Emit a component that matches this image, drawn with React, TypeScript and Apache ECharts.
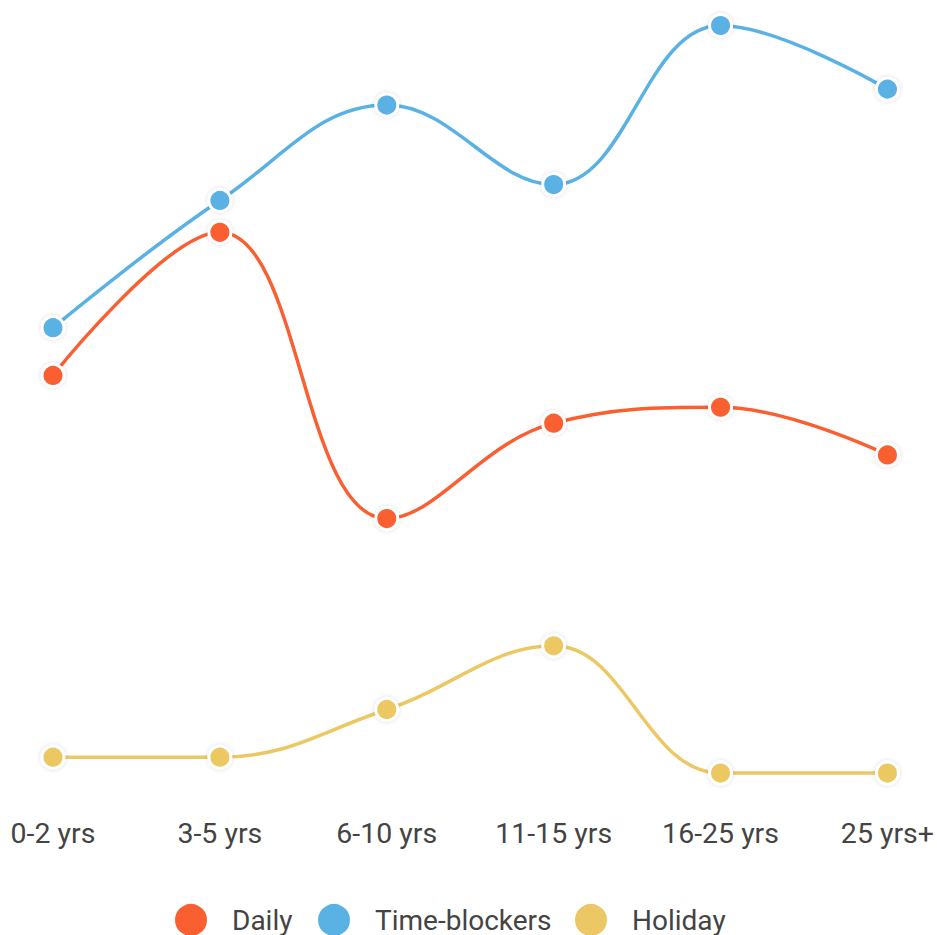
import React, { useEffect, useRef } from "react";
import * as echarts from "echarts";

const categories = ["0-2 yrs", "3-5 yrs", "6-10 yrs", "11-15 yrs", "16-25 yrs", "25 yrs+"];
const daily = [26, 35, 17, 23, 24, 21];
const timeBlockers = [29, 37, 43, 38, 48, 44];
const holiday = [2, 2, 5, 9, 1, 1];

const seriesNames = ["Daily", "Time-blockers", "Holiday"];
const colors = ["#FA5F32", "#5AB2E4", "#ECC864"];
// horizontal centre of each legend marker
const legendCentres = [190, 333, 590];

export default function App() {
  const ref = useRef<HTMLDivElement>(null);

  useEffect(() => {
    if (!ref.current) return;
    const chart = echarts.init(ref.current, null, { renderer: "svg" });
    const data = [daily, timeBlockers, holiday];
    chart.setOption({
      animation: false,
      color: colors,
      grid: { left: 53, right: 48, top: 25.5, bottom: 146, containLabel: false },
      legend: seriesNames.map((name, i) => ({
        data: [name],
        left: legendCentres[i] - 17,
        top: 902,
        padding: 0,
        icon: "circle",
        itemWidth: 34,
        itemHeight: 34,
        textStyle: {
          fontFamily: "Roboto",
          fontSize: 28,
          color: "#444",
          padding: [0, 0, 0, 19],
        },
      })),
      xAxis: {
        type: "category",
        data: categories,
        boundaryGap: false,
        axisLine: { show: false },
        axisTick: { show: false },
        splitLine: { show: false },
        axisLabel: {
          margin: 30,
          fontFamily: "Roboto",
          fontSize: 28.5,
          color: "#444",
          interval: 0,
        },
      },
      yAxis: {
        type: "value",
        min: 0,
        max: 48,
        show: false,
        splitLine: { show: false },
      },
      series: data.map((values, i) => ({
        name: seriesNames[i],
        type: "line",
        data: values,
        smooth: 0.4,
        symbol: "circle",
        symbolSize: 22,
        lineStyle: { width: 3.5, color: colors[i] },
        itemStyle: {
          color: colors[i],
          borderColor: "#fff",
          borderWidth: 3,
          shadowBlur: 4,
          shadowColor: "rgba(0,0,0,0.15)",
        },
      })),
    });
    return () => chart.dispose();
  }, []);

  return (
    <div
      ref={ref}
      style={{ position: "fixed", left: 0, top: 0, width: 937, height: 935, background: "#fff" }}
    />
  );
}
